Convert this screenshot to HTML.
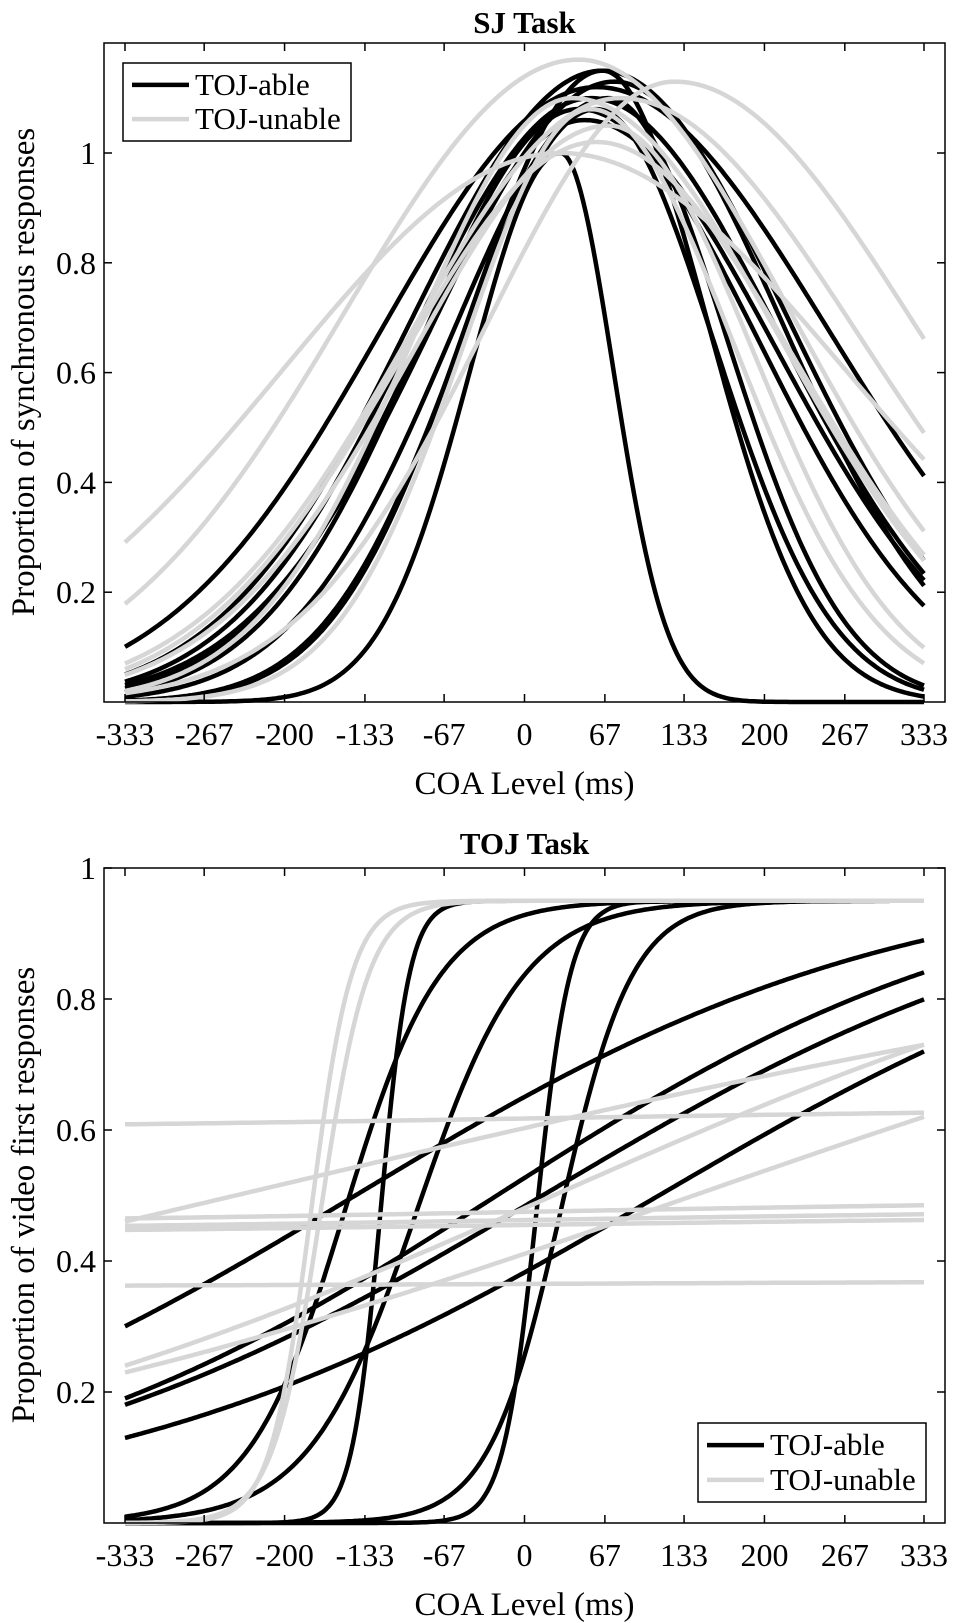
<!DOCTYPE html>
<html><head><meta charset="utf-8"><style>
html,body{margin:0;padding:0;background:#fff;}
svg{display:block;font-family:"Liberation Serif",serif;}
</style></head><body>
<svg id="fig" width="957" height="1623" viewBox="0 0 957 1623" xmlns="http://www.w3.org/2000/svg"></svg>
<script>
// ---- SJ task (Gaussian fits): amplitude, mean, left sigma, right sigma
const sjAbleAmp   = [1.12,1.15,1.10,1.13,1.08,1.10,1.08,1.00,1.15,1.06];
const sjAbleMu    = [60,65,55,75,45,70,60,30,65,50];
const sjAbleSL    = [179,159,149,152,132,131,113,75,112,140];
const sjAbleSR    = [193,155,158,141,151,98,98,44,87,160];
const sjUnableAmp = [1.00,1.13,1.17,1.10,1.02,1.05,1.08,1.10];
const sjUnableMu  = [30,125,45,80,60,70,55,40];
const sjUnableSL  = [231,157,195,176,165,163,105,132];
const sjUnableSR  = [237,201,177,199,167,121,119,172];
// ---- TOJ task (logistic fits): lower, upper, PSS, slope
const tojAbleLo   = [0,0,0,0,0,0,0,0,0];
const tojAbleHi   = [0.95,0.95,0.95,0.95,0.95,1,1,1,1];
const tojAbleMu   = [10,-120,-150,30,-90,-141,-23,15,112];
const tojAbleS    = [14,12,40,30,45,227,214,230,234];
const tojUnableLo = [0,0,0.60,0.455,0.445,0.44,0.36,0,0,0];
const tojUnableHi = [0.95,0.95,0.635,0.495,0.48,0.47,0.37,1,1,1];
const tojUnableMu = [-178,-170,0,0,0,0,0,24,141,-241];
const tojUnableS  = [17,20,300,300,300,300,300,310,392,577];
// ---- ticks
const xTicks = [-333,-267,-200,-133,-67,0,67,133,200,267,333];
const xTickLabels = ["-333","-267","-200","-133","-67","0","67","133","200","267","333"];
const yTicksTop = [0.2,0.4,0.6,0.8,1];
const yTickLabelsTop = ["0.2","0.4","0.6","0.8","1"];
const yTicksBot = [0.2,0.4,0.6,0.8,1];
const yTickLabelsBot = ["0.2","0.4","0.6","0.8","1"];

const NS="http://www.w3.org/2000/svg";
const svg=document.getElementById('fig');
function mk(tag,attrs,parent){const e=document.createElementNS(NS,tag);for(const k in attrs)e.setAttribute(k,attrs[k]);(parent||svg).appendChild(e);return e;}
const L=104,R=945,X0=125,X1=924;
function xs(x){return X0+(x+333)/666*(X1-X0);}
const BLACK="#000",GRAY="#d6d6d6";

function panel(opt){
  const g=mk('g',{});
  
  
  const ys=v=>opt.yBot-(v-0)*opt.ppu;
  const t=mk('text',{x:(L+R)/2,y:opt.titleY,'text-anchor':'middle','font-size':'31','font-weight':'bold'},g);
  t.textContent=opt.title;
  
  
  const cg=mk('g',{fill:'none','stroke-width':'4.5','stroke-linejoin':'round'},g);
  opt.series.forEach(s=>{
    for(let i=0;i<s.n;i++){
      let d='';
      for(let x=-333;x<=333;x+=2){
        const v=s.f(i,x);
        d+=(d?'L':'M')+xs(x).toFixed(1)+','+ys(v).toFixed(1);
      }
      const p=mk('path',{d:d,stroke:s.color},cg);
      
      
    }
  });
  const b=mk('rect',{x:L,y:opt.yTop,width:R-L,height:opt.yBot-opt.yTop,fill:'none',stroke:'#000','stroke-width':'1.5'},g);
  
  
  xTicks.forEach((v,i)=>{
    const x=xs(v);
    mk('line',{x1:x,x2:x,y1:opt.yBot,y2:opt.yBot-8,stroke:'#000','stroke-width':'1.5'},g);
    mk('line',{x1:x,x2:x,y1:opt.yTop,y2:opt.yTop+8,stroke:'#000','stroke-width':'1.5'},g);
    const tl=mk('text',{x:x,y:opt.yBot+43,'text-anchor':'middle','font-size':'32'},g);
    tl.textContent=xTickLabels[i];
    
    
  });
  opt.yTicks.forEach((v,i)=>{
    const y=ys(v);
    mk('line',{x1:L,x2:L+8,y1:y,y2:y,stroke:'#000','stroke-width':'1.5'},g);
    mk('line',{x1:R,x2:R-8,y1:y,y2:y,stroke:'#000','stroke-width':'1.5'},g);
    const tl=mk('text',{x:L-8,y:y+11,'text-anchor':'end','font-size':'32'},g);
    tl.textContent=opt.yLabels[i];
    
    
  });
  const xl=mk('text',{x:(L+R)/2,y:opt.yBot+92,'text-anchor':'middle','font-size':'33'},g);
  xl.textContent='COA Level (ms)';
  
  
  const yl=mk('text',{x:0,y:0,'text-anchor':'middle','font-size':'33',transform:'translate(34,'+opt.yLabelY+') rotate(-90)'},g);
  yl.textContent=opt.yTitle;
  
  
  const lg=mk('g',{},g);
  
  
  const lx=opt.leg[0],ly=opt.leg[1],lw=opt.leg[2],lh=opt.leg[3];
  mk('rect',{x:lx,y:ly,width:lw,height:lh,fill:'#fff',stroke:'#000','stroke-width':'1.5'},lg);
  [['TOJ-able',BLACK],['TOJ-unable',GRAY]].forEach((e,k)=>{
    const yy=ly+lh*(k===0?0.28:0.72);
    const eg=mk('g',{},lg);
    
    
    mk('line',{x1:lx+9,x2:lx+66,y1:yy,y2:yy,stroke:e[1],'stroke-width':'4.5'},eg);
    const tt=mk('text',{x:lx+72,y:yy+10,'font-size':'31'},eg);
    tt.textContent=e[0];
  });
}
function gauss(a,mu,sl,sr,x){const s=x<mu?sl:sr;return a*Math.exp(-(x-mu)*(x-mu)/(2*s*s));}
function logi(lo,hi,mu,s,x){return lo+(hi-lo)/(1+Math.exp(-(x-mu)/s));}

panel({name:'sj-task-panel',title:'SJ Task',titleY:33,yTop:43,yBot:702,ppu:549,
  yTicks:yTicksTop,yLabels:yTickLabelsTop,yTitle:'Proportion of synchronous responses',yLabelY:372,
  leg:[123,63,228,78],
  series:[
   {label:'sj-toj-able',color:BLACK,n:sjAbleAmp.length,f:(i,x)=>gauss(sjAbleAmp[i],sjAbleMu[i],sjAbleSL[i],sjAbleSR[i],x)},
   {label:'sj-toj-unable',color:GRAY,n:sjUnableAmp.length,f:(i,x)=>gauss(sjUnableAmp[i],sjUnableMu[i],sjUnableSL[i],sjUnableSR[i],x)}
  ]});
panel({name:'toj-task-panel',title:'TOJ Task',titleY:854,yTop:868,yBot:1523,ppu:655,
  yTicks:yTicksBot,yLabels:yTickLabelsBot,yTitle:'Proportion of video first responses',yLabelY:1195,
  leg:[698,1423,228,79],
  series:[
   {label:'toj-toj-able',color:BLACK,n:tojAbleMu.length,f:(i,x)=>logi(tojAbleLo[i],tojAbleHi[i],tojAbleMu[i],tojAbleS[i],x)},
   {label:'toj-toj-unable',color:GRAY,n:tojUnableMu.length,f:(i,x)=>logi(tojUnableLo[i],tojUnableHi[i],tojUnableMu[i],tojUnableS[i],x)}
  ]});
</script>
</body></html>
